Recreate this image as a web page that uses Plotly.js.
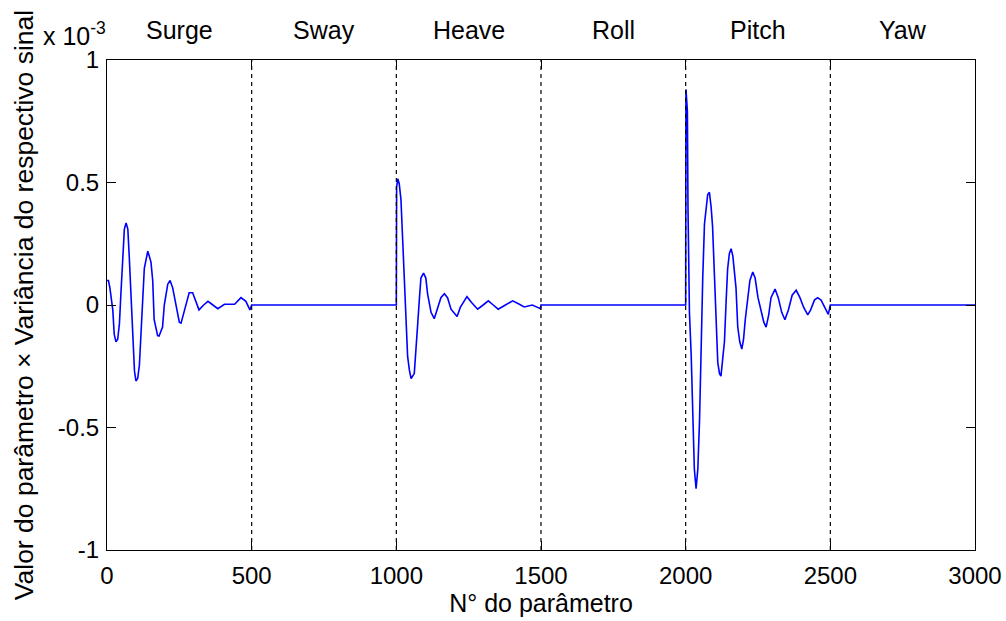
<!DOCTYPE html>
<html>
<head>
<meta charset="utf-8">
<script src="https://cdn.plot.ly/plotly-3.0.1.min.js"></script>
<style>
  html, body { margin: 0; padding: 0; background: #fff; }
  #chart { width: 1006px; height: 621px; }
</style>
</head>
<body>
<div id="chart"></div>
<script>
// Parameter index vs. parameter value × signal variance (values in units of 1e-3)
const segmentNames = ["Surge", "Sway", "Heave", "Roll", "Pitch", "Yaw"];
const boundaries = [500, 1000, 1500, 2000, 2500];
const segmentCenters = [250, 750, 1250, 1750, 2250, 2750];

const surgeX = [0, 5, 10, 20, 25, 31, 37, 43, 48, 54, 60, 66, 72, 77, 83, 89, 95, 100, 106, 112, 117, 123, 129, 141, 152, 158, 163, 175, 180, 192, 198, 210, 218, 227, 238, 250, 256, 265, 276, 284, 296, 307, 318, 334, 349, 366, 383, 406, 441, 463, 480, 494, 500];
const surgeY = [0.10, 0.10, 0.07, -0.02, -0.12, -0.15, -0.14, -0.075, 0.045, 0.195, 0.31, 0.335, 0.31, 0.195, 0.03, -0.16, -0.27, -0.31, -0.30, -0.245, -0.12, 0.03, 0.15, 0.22, 0.175, 0.10, -0.06, -0.125, -0.127, -0.09, 0.0, 0.085, 0.10, 0.07, 0.0, -0.07, -0.074, -0.035, 0.01, 0.05, 0.05, 0.01, -0.02, 0.0, 0.015, 0.0, -0.015, 0.003, 0.003, 0.03, 0.015, -0.02, 0];

const swayX = [500, 1000];
const swayY = [0, 0];

const heaveX = [1000, 1001, 1005, 1010, 1016, 1022, 1028, 1034, 1039, 1045, 1051, 1062, 1068, 1074, 1080, 1085, 1094, 1102, 1108, 1120, 1131, 1143, 1154, 1166, 1177, 1189, 1210, 1221, 1244, 1260, 1281, 1300, 1318, 1335, 1352, 1377, 1402, 1422, 1442, 1470, 1498, 1500];
const heaveY = [0, 0.48, 0.515, 0.495, 0.43, 0.255, 0.045, -0.13, -0.21, -0.265, -0.30, -0.28, -0.19, -0.075, 0.03, 0.11, 0.13, 0.11, 0.045, -0.03, -0.056, -0.01, 0.03, 0.046, 0.03, -0.017, -0.047, -0.01, 0.034, 0.01, -0.017, 0.0, 0.017, 0.0, -0.017, 0.0, 0.017, 0.005, -0.008, 0.0, -0.015, 0];

const rollX = [1500, 2000];
const rollY = [0, 0];

const pitchX = [2000, 2001, 2004, 2006, 2008, 2013, 2019, 2024, 2030, 2036, 2042, 2048, 2053, 2059, 2065, 2070, 2076, 2082, 2088, 2093, 2099, 2105, 2111, 2117, 2122, 2128, 2134, 2140, 2145, 2151, 2157, 2163, 2168, 2174, 2180, 2187, 2194, 2200, 2206, 2214, 2222, 2232, 2240, 2250, 2261, 2270, 2278, 2287, 2295, 2309, 2320, 2332, 2343, 2355, 2368, 2382, 2395, 2408, 2422, 2432, 2445, 2456, 2468, 2480, 2493, 2500];
const pitchY = [0, 0.88, 0.80, 0.79, 0.40, -0.03, -0.20, -0.415, -0.67, -0.75, -0.67, -0.47, -0.18, 0.11, 0.33, 0.40, 0.45, 0.46, 0.40, 0.32, 0.13, -0.08, -0.235, -0.28, -0.29, -0.22, -0.15, 0.02, 0.147, 0.21, 0.23, 0.20, 0.14, 0.07, -0.09, -0.15, -0.18, -0.14, -0.06, 0.027, 0.10, 0.135, 0.11, 0.03, -0.02, -0.07, -0.09, -0.04, 0.03, 0.065, 0.03, -0.03, -0.06, -0.02, 0.04, 0.06, 0.03, -0.01, -0.04, -0.02, 0.02, 0.03, 0.02, -0.01, -0.038, 0];

const yawX = [2500, 3000];
const yawY = [0, 0];

const xTicks = [0, 500, 1000, 1500, 2000, 2500, 3000];
const yTicks = [-1, -0.5, 0, 0.5, 1];
const yTickLabels = ["-1", "-0.5", "0", "0.5", "1"];

const xAll = [].concat(surgeX, swayX, heaveX, rollX, pitchX, yawX);
const yAll = [].concat(surgeY, swayY, heaveY, rollY, pitchY, yawY);

const font = "Liberation Sans, Arial, Helvetica, sans-serif";
const labelSize = 25;
const tickSize = 24;

const trace = {
  x: xAll,
  y: yAll,
  type: "scatter",
  mode: "lines",
  line: { color: "#0000ff", width: 1.6 },
  hoverinfo: "skip"
};

const shapes = boundaries.map(b => ({
  type: "line",
  xref: "x", yref: "paper",
  x0: b, x1: b, y0: 0, y1: 1,
  line: { color: "#000", width: 1.2, dash: "4px,4px" }
}));

const annotations = segmentNames.map((name, i) => ({
  x: segmentCenters[i], xref: "x",
  y: 1.062, yref: "paper",
  text: name, showarrow: false,
  xanchor: "center", yanchor: "middle",
  font: { family: font, size: labelSize, color: "#000" }
}));

annotations.push({
  x: -0.076, xref: "paper",
  y: 1.054, yref: "paper",
  text: "x 10<sup>-3</sup>", showarrow: false,
  xanchor: "left", yanchor: "middle",
  font: { family: font, size: labelSize, color: "#000" }
});

const layout = {
  width: 1006,
  height: 621,
  margin: { l: 107, r: 31, t: 60, b: 71 },
  paper_bgcolor: "#fff",
  plot_bgcolor: "#fff",
  showlegend: false,
  font: { family: font, color: "#000" },
  xaxis: {
    range: [0, 3000],
    tickvals: xTicks,
    ticktext: xTicks.map(String),
    ticks: "inside",
    ticklen: 9,
    tickwidth: 1,
    tickcolor: "#000",
    showline: true,
    linecolor: "#000",
    linewidth: 1,
    mirror: "allticks",
    showgrid: false,
    zeroline: false,
    ticklabelstandoff: 4,
    tickfont: { family: font, size: tickSize, color: "#000" },
    title: { text: "N° do parâmetro", font: { family: font, size: labelSize, color: "#000" }, standoff: 2 }
  },
  yaxis: {
    range: [-1, 1],
    tickvals: yTicks,
    ticktext: yTickLabels,
    ticks: "inside",
    ticklen: 9,
    tickwidth: 1,
    tickcolor: "#000",
    showline: true,
    linecolor: "#000",
    linewidth: 1,
    mirror: "allticks",
    showgrid: false,
    zeroline: false,
    ticklabelstandoff: 2,
    tickfont: { family: font, size: tickSize, color: "#000" },
    title: { text: "Valor do parâmetro × Variância do respectivo sinal", font: { family: font, size: 26.5, color: "#000" }, standoff: 16 }
  },
  shapes: shapes,
  annotations: annotations
};

Plotly.newPlot("chart", [trace], layout, { displayModeBar: false, staticPlot: true });
</script>
</body>
</html>
